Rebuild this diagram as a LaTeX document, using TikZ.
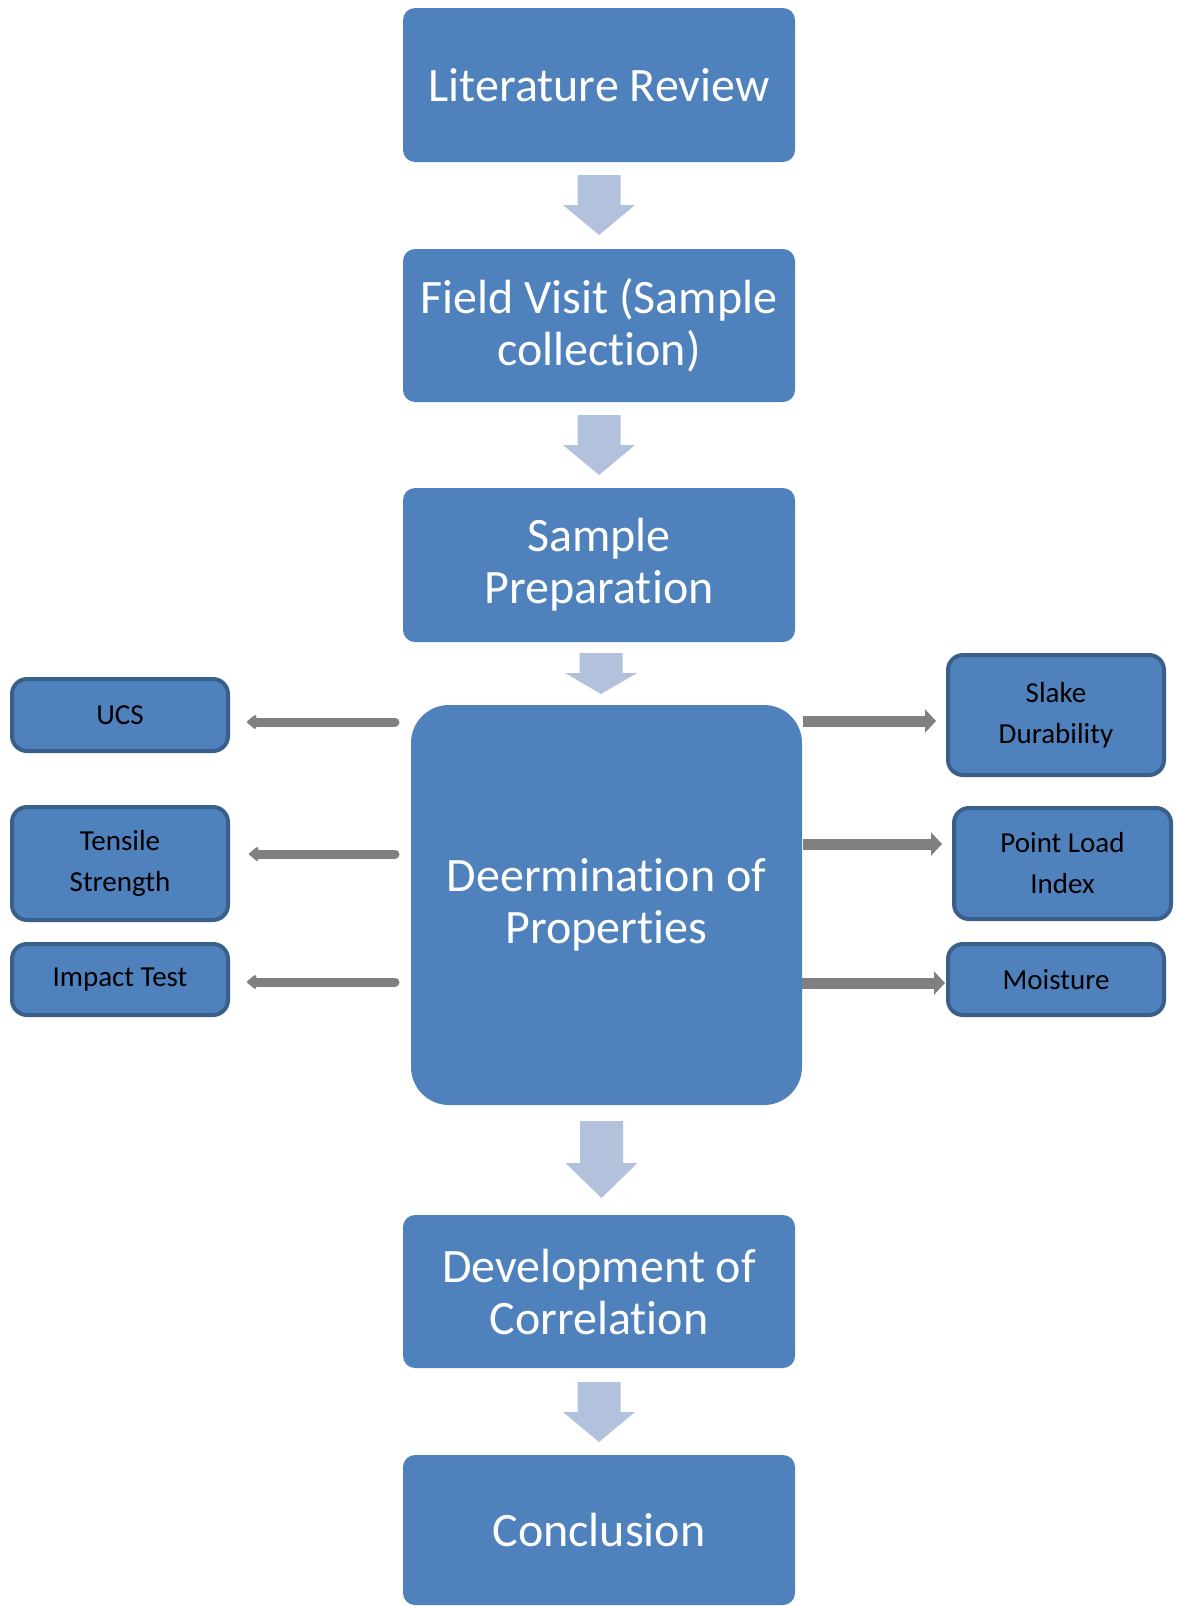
\documentclass[tikz,border=0pt]{standalone}
\usepackage{fontspec}
\setmainfont{Carlito}[Ligatures=NoCommon]
\usetikzlibrary{calc,arrows.meta}
\definecolor{boxblue}{HTML}{4F81BD}
\definecolor{boxedge}{HTML}{3A5F8B}
\definecolor{arrowblue}{HTML}{B2C1DC}
\definecolor{arrowgray}{HTML}{808080}
\newcommand\mainfnt{\fontsize{48}{52}\selectfont}
\newcommand\smallfnt{\fontsize{29}{41}\selectfont}
\newcommand\blockdown[3]{%
  \fill[arrowblue] ($(#1)+(-21.5,0)$) -- ++(43,0) -- ++(0,#2) -- ++(14.5,0)
    -- ++(-36,#3) -- ++(-36,-#3) -- ++(14.5,0) -- cycle;}
\tikzset{
  mainbox/.style={fill=boxblue, rounded corners=12pt, text=white, font=\mainfnt,
    align=center, inner sep=0pt, outer sep=0pt, minimum width=392pt, minimum height=154pt},
  smallbox/.style={fill=boxblue, draw=boxedge, line width=4pt, rounded corners=15pt,
    text=black, font=\smallfnt, align=center, inner sep=0pt, minimum width=216pt},
  leftarrow/.style={draw=arrowgray, line width=9pt, line cap=round,
    -{Triangle[width=16pt,length=10pt,round]}},
  rightarrow/.style={draw=arrowgray, line width=11pt,
    -{Triangle[width=23pt,length=11pt]}}
}
\begin{document}
\begin{tikzpicture}[x=1pt,y=-1pt]
\useasboundingbox (0,0) rectangle (1177,1606);
% main column
\node[mainbox] (lit) at (599,85) {Literature Review};
\node[mainbox, minimum height=153pt] (field) at (599,325.5) {Field Visit (Sample\\collection)};
\node[mainbox] (prep) at (599,565) {Sample\\Preparation};
\node[mainbox, minimum width=391pt, minimum height=400pt, rounded corners=38pt] (det) at (606.5,905) {Deermination of\\Properties};
\node[mainbox, minimum height=153pt] (dev) at (599,1291.5) {Development of\\Correlation};
\node[mainbox, minimum height=150pt] (conc) at (599,1530) {Conclusion};
% side boxes
\node[smallbox, minimum height=72pt] (ucs) at (120,715) {UCS};
\node[smallbox, minimum height=113pt] (ten) at (120,863.5) {Tensile\\Strength};
\node[smallbox, minimum height=71pt] (imp) at (120,979.5) {Impact Test};
\node[smallbox, minimum height=120pt] (slake) at (1056,715) {Slake\\Durability};
\node[smallbox, minimum width=217pt, minimum height=111pt] (pli) at (1062.5,863.5) {Point Load\\Index};
\node[smallbox, minimum height=71pt] (moist) at (1056,979.5) {Moisture};
% down block arrows
\coordinate (a1) at ($(lit.south)+(0,13)$);
\coordinate (a2) at ($(field.south)+(0,13)$);
\coordinate (a3) at ($(prep.south)+(2,11)$);
\coordinate (a4) at ($(det.south)+(-5,16)$);
\coordinate (a5) at ($(dev.south)+(0,14)$);
\blockdown{a1}{30}{30}
\blockdown{a2}{30}{30}
\blockdown{a3}{20}{21}
\blockdown{a4}{42}{35}
\blockdown{a5}{30}{30}
% left arrows
\draw[leftarrow] ($(det.west|-ucs.east)+(-16,7)$) -- ($(ucs.east)+(17,7)$);
\draw[leftarrow] ($(det.west|-ten.east)+(-16,-9.5)$) -- ($(ten.east)+(19,-9.5)$);
\draw[leftarrow] ($(det.west|-imp.east)+(-16,2.5)$) -- ($(imp.east)+(17,2.5)$);
% right arrows
\draw[rightarrow] ($(det.east|-slake.west)+(1,6)$) -- ($(slake.west)+(-10,6)$);
\draw[rightarrow] ($(det.east|-pli.west)+(1,-19.5)$) -- ($(pli.west)+(-10,-19.5)$);
\draw[rightarrow] ($(det.east|-moist.west)+(0,3.5)$) -- ($(moist.west)+(-1,3.5)$);
\end{tikzpicture}
\end{document}
